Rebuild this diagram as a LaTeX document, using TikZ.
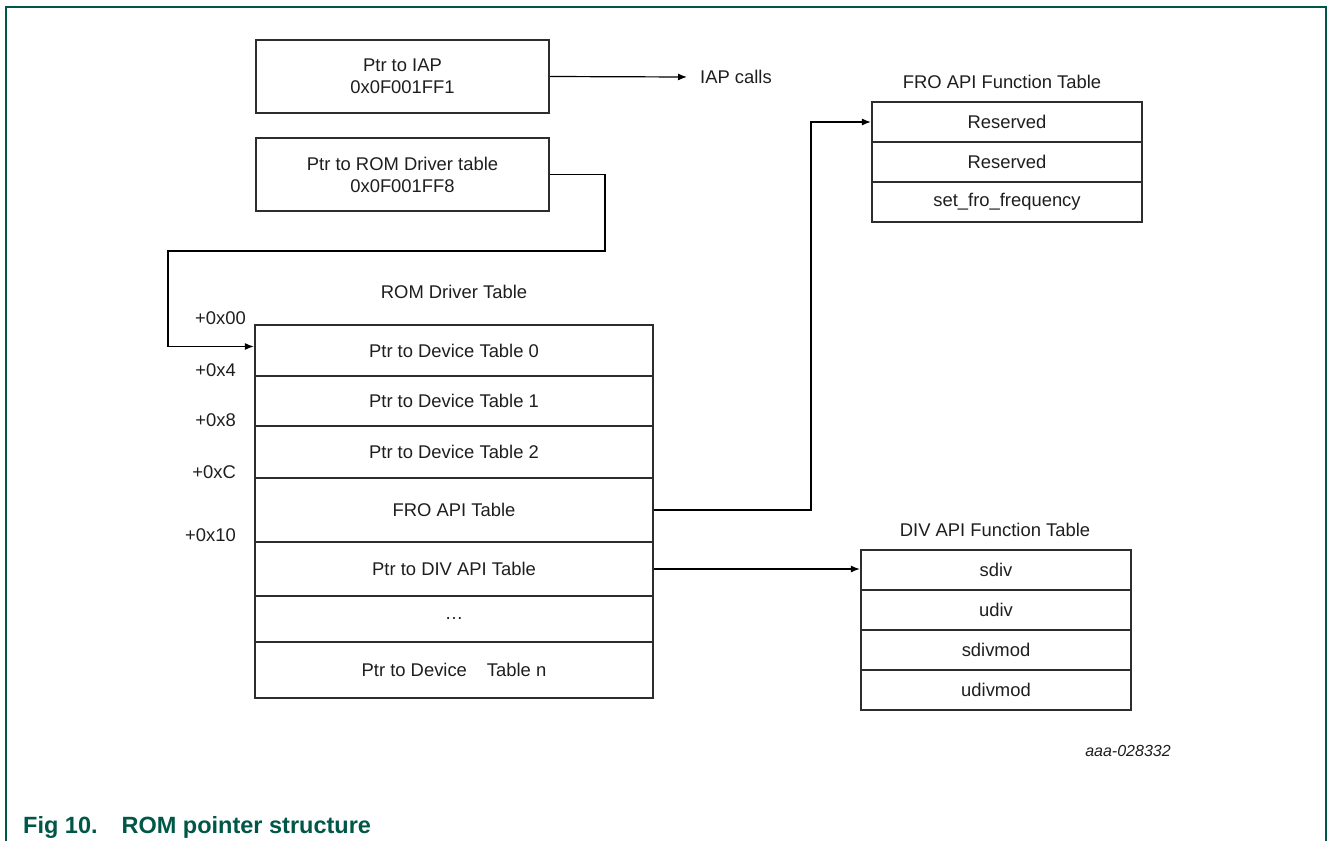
\documentclass[tikz,border=0pt]{standalone}
\usepackage{fontspec}
\setmainfont{Liberation Sans}
\usetikzlibrary{arrows.meta}
\definecolor{nxpgreen}{RGB}{0,87,72}
\definecolor{boxgray}{RGB}{45,45,45}
\definecolor{txtgray}{RGB}{30,30,30}
\tikzset{
  ptrbox/.style={draw=boxgray, line width=2.2pt, minimum width=293pt, minimum height=73pt, inner sep=0pt, align=center, text=txtgray, font=\fontsize{18.4}{22}\selectfont},
  romcell/.style={draw=boxgray, line width=2.2pt, minimum width=398pt, inner sep=0pt, text=txtgray, font=\fontsize{18.4}{22}\selectfont},
  funcell/.style={draw=boxgray, line width=2.2pt, minimum width=270pt, minimum height=40pt, inner sep=0pt, text=txtgray, font=\fontsize{18.4}{22}\selectfont},
  ttl/.style={text=txtgray, inner sep=0pt, font=\fontsize{18.4}{22}\selectfont},
  offs/.style={anchor=east, text=txtgray, inner sep=0pt, font=\fontsize{18.4}{22}\selectfont},
  link/.style={line width=1.2pt, -{Latex[length=9pt,width=7pt]}}
}
\begin{document}
\begin{tikzpicture}[x=1pt,y=-1pt]
\useasboundingbox (0,0) rectangle (1328,841);
\draw[nxpgreen, line width=1.5pt] (6,841) -- (6,7) -- (1326,7) -- (1326,841);

% pointers
\node[ptrbox] (iap) at (402.5,76.5) {Ptr to IAP\\0x0F001FF1};
\node[ptrbox] (romptr) at (402.5,174.5) {Ptr to ROM Driver table\\0x0F001FF8};
\node[ttl, anchor=west] (calls) at (700,77) {IAP calls};

% ROM driver table
\node[ttl] (romttl) at (454,292) {ROM Driver Table};
\node[romcell, minimum height=51pt] (rt0) at (454,350.5) {Ptr to Device Table 0};
\node[romcell, minimum height=50pt] (rt1) at (454,401) {Ptr to Device Table 1};
\node[romcell, minimum height=52pt] (rt2) at (454,452) {Ptr to Device Table 2};
\node[romcell, minimum height=64pt] (rt3) at (454,510) {FRO API Table};
\node[romcell, minimum height=54pt] (rt4) at (454,569) {Ptr to DIV API Table};
\node[romcell, minimum height=46pt] (rt5) at (454,619) {…};
\node[romcell, minimum height=56pt] (rt6) at (454,670) {Ptr to Device\hspace{20pt}Table n};

\node[offs] (o0) at (246,318) {+0x00};
\node[offs] (o1) at (236,370) {+0x4};
\node[offs] (o2) at (236,420) {+0x8};
\node[offs] (o3) at (236,472) {+0xC};
\node[offs] (o4) at (236,535) {+0x10};

% FRO API function table
\node[ttl] (frottl) at (1002,82) {FRO API Function Table};
\node[funcell] (fro0) at (1007,122) {Reserved};
\node[funcell] (fro1) at (1007,162) {Reserved};
\node[funcell] (fro2) at (1007,202) {set\_fro\_frequency};

% DIV API function table
\node[ttl] (divttl) at (995,530) {DIV API Function Table};
\node[funcell] (div0) at (996,570) {sdiv};
\node[funcell] (div1) at (996,610) {udiv};
\node[funcell] (div2) at (996,650) {sdivmod};
\node[funcell] (div3) at (996,690) {udivmod};

\node[text=txtgray, font=\itshape\fontsize{16}{19}\selectfont] (figid) at (1128,751) {aaa-028332};
\node[anchor=base west, inner sep=0pt, text=nxpgreen, font=\bfseries\fontsize{23.5}{27}\selectfont] (caption) at (23,833) {Fig 10.\hspace{24pt}ROM pointer structure};

% connectors
\coordinate (bendA) at (605,251);
\coordinate (bendB) at (168,251);
\coordinate (bendC) at (811,122);
\draw[link] (iap.east) -- ([xshift=-13pt]calls.west);
\draw[link] (romptr.east) -| (bendA) -- (bendB) |- ([yshift=4pt]rt0.west);
\draw[link] (rt3.east) -| (bendC) -- (fro0.west);
\draw[link] (rt4.east) -- (rt4.east -| div0.west);
\end{tikzpicture}
\end{document}
